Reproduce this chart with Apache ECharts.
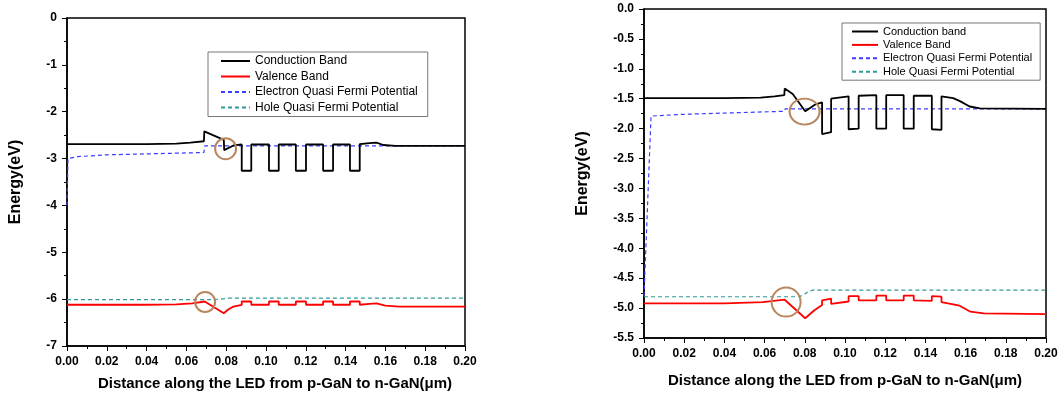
<!DOCTYPE html>
<html>
<head>
<meta charset="utf-8">
<script src="https://cdn.jsdelivr.net/npm/echarts@6/dist/echarts.min.js"></script>
<style>
  html, body { margin: 0; padding: 0; background: #fff; }
  #chart { width: 1062px; height: 396px; }
</style>
</head>
<body>
<div id="chart"></div>
<script>
// band diagram data, x in um, energy in eV
var leftNames = ['Conduction Band', 'Valence Band', 'Electron Quasi Fermi Potential', 'Hole Quasi Fermi Potential'];
var rightNames = ['Conduction band', 'Valence Band', 'Electron Quasi Fermi Potential', 'Hole Quasi Fermi Potential'];

var leftConduction = [[0,-2.69],[0.040,-2.69],[0.055,-2.68],[0.062,-2.66],[0.0688,-2.63],[0.0690,-2.42],[0.0788,-2.60],[0.0790,-2.82],[0.0836,-2.72],[0.0878,-2.70],[0.0878,-3.26],[0.0926,-3.26],[0.0926,-2.70],[0.1015,-2.70],[0.1015,-3.26],[0.1064,-3.26],[0.1064,-2.70],[0.1150,-2.70],[0.1150,-3.26],[0.1201,-3.26],[0.1201,-2.70],[0.1287,-2.70],[0.1287,-3.26],[0.1337,-3.26],[0.1337,-2.70],[0.1422,-2.70],[0.1422,-3.26],[0.1471,-3.26],[0.1471,-2.69],[0.1520,-2.67],[0.1555,-2.66],[0.1590,-2.71],[0.1650,-2.73],[0.2,-2.73]];
var leftValence = [[0,-6.12],[0.040,-6.12],[0.055,-6.11],[0.063,-6.09],[0.0692,-6.05],[0.0788,-6.30],[0.081,-6.22],[0.0836,-6.16],[0.0878,-6.12],[0.0878,-6.05],[0.0926,-6.05],[0.0926,-6.12],[0.1015,-6.12],[0.1015,-6.05],[0.1064,-6.05],[0.1064,-6.12],[0.1150,-6.12],[0.1150,-6.05],[0.1201,-6.05],[0.1201,-6.12],[0.1287,-6.12],[0.1287,-6.05],[0.1337,-6.05],[0.1337,-6.12],[0.1422,-6.12],[0.1422,-6.05],[0.1471,-6.05],[0.1471,-6.12],[0.1520,-6.10],[0.1555,-6.09],[0.1600,-6.14],[0.1670,-6.16],[0.2,-6.16]];
var leftElectron = [[0,-4.0],[0.0005,-3.0],[0.005,-2.96],[0.02,-2.92],[0.04,-2.90],[0.06,-2.88],[0.0688,-2.87],[0.0692,-2.73],[0.2,-2.73]];
var leftHole = [[0,-6.01],[0.072,-6.01],[0.077,-6.0],[0.081,-5.98],[0.2,-5.98]];

var rightConduction = [[0,-1.49],[0.040,-1.49],[0.058,-1.48],[0.065,-1.46],[0.0698,-1.44],[0.0700,-1.33],[0.0740,-1.42],[0.0802,-1.71],[0.0850,-1.60],[0.0886,-1.56],[0.0886,-2.09],[0.0931,-2.06],[0.0931,-1.50],[0.1018,-1.46],[0.1018,-2.01],[0.1068,-2.00],[0.1068,-1.45],[0.1156,-1.44],[0.1156,-2.00],[0.1205,-2.00],[0.1205,-1.44],[0.1292,-1.44],[0.1292,-2.00],[0.1342,-2.00],[0.1342,-1.45],[0.1432,-1.45],[0.1432,-2.01],[0.1480,-2.02],[0.1480,-1.46],[0.1538,-1.49],[0.1572,-1.54],[0.1620,-1.63],[0.1672,-1.66],[0.2,-1.67]];
var rightValence = [[0,-4.92],[0.040,-4.92],[0.059,-4.90],[0.0700,-4.86],[0.0802,-5.17],[0.0846,-5.04],[0.0886,-4.95],[0.0886,-4.87],[0.0931,-4.84],[0.0931,-4.93],[0.1018,-4.89],[0.1018,-4.80],[0.1068,-4.80],[0.1068,-4.87],[0.1156,-4.87],[0.1156,-4.79],[0.1205,-4.79],[0.1205,-4.87],[0.1292,-4.87],[0.1292,-4.79],[0.1342,-4.79],[0.1342,-4.87],[0.1432,-4.88],[0.1432,-4.80],[0.1480,-4.81],[0.1480,-4.90],[0.1570,-4.96],[0.1624,-5.06],[0.1690,-5.09],[0.2,-5.10]];
var rightElectron = [[0,-4.80],[0.0035,-1.79],[0.02,-1.76],[0.04,-1.74],[0.06,-1.72],[0.0698,-1.71],[0.0702,-1.67],[0.2,-1.67]];
var rightHole = [[0,-4.81],[0.077,-4.81],[0.0795,-4.78],[0.081,-4.74],[0.0838,-4.70],[0.2,-4.70]];

// brown rings marking the interfaces
var leftRings = [[0.0797,-2.79],[0.0694,-6.06]];
var rightRings = [[0.0799,-1.715],[0.0707,-4.90]];

var xTitle = 'Distance along the LED from p-GaN to n-GaN(\u03bcm)';
var font = 'Liberation Sans, Arial, sans-serif';
var blue = '#3d3dff';
var teal = '#2f9b98';
var ring = '#b9875f';

var chart = echarts.init(document.getElementById('chart'), null, {renderer: 'canvas'});

function xAxisFor(gi, gap, pad){
  return {
    gridIndex: gi, type: 'value', min: 0, max: 0.2, interval: 0.02,
    name: xTitle, nameLocation: 'middle', nameGap: gap,
    nameTextStyle: {fontFamily: font, fontWeight: 'bold', fontSize: 15, color: '#000', padding: pad},
    axisLine: {onZero: false, lineStyle: {color: '#000', width: 1.5}},
    axisTick: {length: 5, lineStyle: {color: '#000'}},
    minorTick: {show: true, splitNumber: 2, length: 3, lineStyle: {color: '#000'}},
    splitLine: {show: false},
    axisLabel: {fontFamily: font, fontWeight: 'bold', fontSize: 12, color: '#000', margin: 10,
      formatter: function(v){ return v.toFixed(2); }}
  };
}
function yAxisFor(gi, mn, itv, dec, gap){
  return {
    gridIndex: gi, type: 'value', min: mn, max: 0, interval: itv,
    name: 'Energy(eV)', nameLocation: 'middle', nameGap: gap,
    nameTextStyle: {fontFamily: font, fontWeight: 'bold', fontSize: 16, color: '#000'},
    axisLine: {onZero: false, lineStyle: {color: '#000', width: 1.5}},
    axisTick: {length: 5, lineStyle: {color: '#000'}},
    minorTick: {show: true, splitNumber: 2, length: 3, lineStyle: {color: '#000'}},
    splitLine: {show: false},
    axisLabel: {fontFamily: font, fontWeight: 'bold', fontSize: 12, color: '#000', margin: 10,
      formatter: function(v){ return v.toFixed(dec); }}
  };
}
function rings(list, size){
  return {
    symbol: 'circle', silent: true, label: {show: false},
    itemStyle: {color: 'rgba(0,0,0,0)', borderColor: ring, borderWidth: 2},
    data: list.map(function(p, i){ return {coord: p, symbolSize: size[i]}; })
  };
}
function band(name, gi, data, color, width, dashed, mp){
  var s = {
    name: name, type: 'line', xAxisIndex: gi, yAxisIndex: gi, data: data,
    symbol: 'none', showSymbol: false, silent: true,
    lineStyle: {color: color, width: width, type: dashed ? [4, 3] : 'solid'},
    itemStyle: {color: color}
  };
  if (mp) s.markPoint = mp;
  return s;
}

var option = {
  animation: false,
  backgroundColor: '#fff',
  grid: [
    {left: 67, top: 18, width: 398, height: 329, show: true, borderColor: '#000', borderWidth: 1.5, backgroundColor: 'transparent'},
    {left: 644, top: 9, width: 402, height: 329, show: true, borderColor: '#000', borderWidth: 1.5, backgroundColor: 'transparent'}
  ],
  xAxis: [xAxisFor(0, 30, [0, 0, 0, 18]), xAxisFor(1, 35, 0)],
  yAxis: [yAxisFor(0, -7, 1, 0, 43), yAxisFor(1, -5.5, 0.5, 1, 53)],
  legend: [
    {data: leftNames, orient: 'vertical', left: 208, top: 52, itemWidth: 29, itemHeight: 12, itemGap: 3.5,
      padding: [3, 10, 3, 12], borderColor: '#777', borderWidth: 1, selectedMode: false,
      itemStyle: {opacity: 0},
      textStyle: {fontFamily: font, fontSize: 12, color: '#000'}},
    {data: rightNames, orient: 'vertical', left: 842, top: 23, itemWidth: 26, itemHeight: 11, itemGap: 2.4,
      padding: [3, 8, 3, 9], borderColor: '#777', borderWidth: 1, selectedMode: false,
      itemStyle: {opacity: 0},
      textStyle: {fontFamily: font, fontSize: 11, color: '#000'}}
  ],
  series: [
    band(leftNames[2], 0, leftElectron, blue, 1.2, true),
    band(leftNames[3], 0, leftHole, teal, 1.2, true),
    band(leftNames[0], 0, leftConduction, '#000', 1.8, false, rings(leftRings, [21, 20])),
    band(leftNames[1], 0, leftValence, '#ff0000', 1.8, false),
    band(rightNames[2], 1, rightElectron, blue, 1.2, true),
    band(rightNames[3], 1, rightHole, teal, 1.2, true),
    band(rightNames[0], 1, rightConduction, '#000', 1.8, false, rings(rightRings, [[30, 26], 29])),
    band(rightNames[1], 1, rightValence, '#ff0000', 1.8, false)
  ]
};

chart.setOption(option);
</script>
</body>
</html>
